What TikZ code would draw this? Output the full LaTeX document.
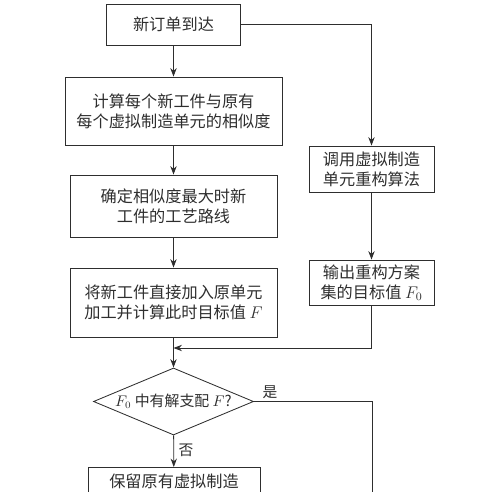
\documentclass[tikz,border=0pt]{standalone}
\usepackage{fontspec}
\newfontfamily\cjk{Noto Sans CJK SC}
\usepackage{tikz}
\usetikzlibrary{shapes.geometric}
\usetikzlibrary{arrows.meta}
\colorlet{ink}{black!82}
\tikzstyle{proc}=[draw=ink, text=ink, line width=0.6pt, align=center, inner sep=0pt, font=\cjk\fontsize{11.5}{14.2}\selectfont]
\tikzstyle{rproc}=[proc, minimum width=3.125cm]
\tikzstyle{decision}=[proc, diamond, minimum width=4cm, minimum height=1.675cm]
\tikzstyle{tag}=[text=ink, inner sep=0pt, font=\cjk\fontsize{10.5}{13}\selectfont]
\tikzstyle{flow}=[draw=ink, line width=0.6pt, -{Stealth[length=6pt, width=4.5pt]}]
\tikzstyle{link}=[draw=ink, line width=0.6pt]

\begin{document}
\begin{tikzpicture}[x=0.025cm, y=-0.025cm]
        \useasboundingbox (0, 0) rectangle (500, 492);
        \clip (0, 0) rectangle (500, 492);
        \node[proc, minimum width=3.35cm, minimum height=1.025cm]  (new) at (173.5, 24.5) {新订单到达};
        \node[proc, minimum width=5.425cm, minimum height=1.7cm]   (sim) at (173.5, 111) {计算每个新工件与原有\\每个虚拟制造单元的相似度};
        \node[proc, minimum width=5.175cm, minimum height=1.55cm]  (route) at (173.5, 206) {确定相似度最大时新\\工件的工艺路线};
        \node[proc, minimum width=5.175cm, minimum height=1.725cm] (direct) at (173.5, 302.5) {将新工件直接加入原单元\\加工并计算此时目标值 $F$};
        \node[rproc, minimum height=1.15cm]                        (recon) at (371.5, 169) {调用虚拟制造\\单元重构算法};
        \node[rproc, minimum height=1.125cm]                       (out) at (371.5, 282.5) {输出重构方案\\集的目标值 $F_0$};
        \node[decision, label=center:{\cjk\fontsize{10.6}{13}\selectfont\color{ink}$F_0$ 中有解支配 $F$?}] (chk) at (173.5, 401.5) {};
        \node[proc, anchor=north, minimum width=4.3cm, inner ysep=0.14cm, text height=0.35cm, text depth=1.6cm] (keep) at (174, 467) {保留原有虚拟制造};
        \node[tag] (yes) at (270, 392) {是};
        \node[tag] (no) at (186, 450) {否};
        \coordinate (merge) at (173.5, 348);
        \coordinate (yesend) at (372, 520);
        \draw[flow] (new) -- (sim);
        \draw[flow] (new.east) -| (recon.north);
        \draw[flow] (sim) -- (route);
        \draw[flow] (route) -- (direct);
        \draw[flow] (recon) -- (out);
        \draw[flow] (direct) -- (chk);
        \draw[flow] (out.south) |- (merge);
        \draw[link] (chk.east) -| (yesend);
        \draw[flow] (chk) -- (keep);
    \end{tikzpicture}
\end{document}
